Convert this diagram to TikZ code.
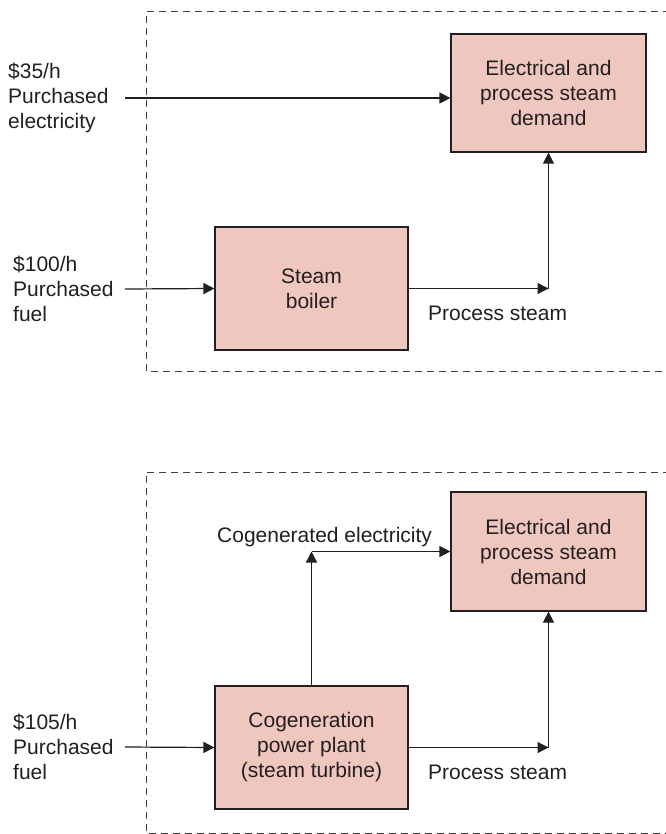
\documentclass[tikz,border=0pt]{standalone}
\usepackage{fontspec}
\setmainfont{Liberation Sans}
\usepackage{tikz}
\usetikzlibrary{positioning, arrows.meta, calc}
\definecolor{cBoxFill}{HTML}{EFC7BF}
\definecolor{cLine}   {HTML}{231F20}

\tikzset{
  flowbox/.style={draw=cLine, fill=cBoxFill, line width=1.2pt, inner sep=0pt,
                  minimum width=193pt, minimum height=123pt, align=center,
                  font=\fontsize{21}{25}\selectfont, text=cLine},
  flowtext/.style={inner sep=0pt, align=left,
                   font=\fontsize{21}{25}\selectfont, text=cLine},
  flowarrow/.style={draw=cLine, line width=1.2pt, -{Triangle[length=11pt, width=11pt]}},
  boundary/.style={draw=cLine!85, line width=1pt, dash pattern=on 7pt off 5pt},
}

\begin{document}
\begin{tikzpicture}[x=1pt, y=-1pt]
  \useasboundingbox (0,0) rectangle (665,834);

  % upper panel: separate production
  \draw[boundary] (670,12) -- (146,12) -- (146,371) -- (670,371);
  \node[flowbox, minimum width=195pt, minimum height=118pt] (demA) at (548.5,93)
       {Electrical and\\process steam\\demand};
  \node[flowbox] (boiler) at (311.5,288.5) {Steam\\boiler};
  \node[flowtext, anchor=west] (elecA) at (8,98) {\$35/h\\Purchased\\electricity};
  \node[flowtext, anchor=west] (fuelA) at (13,289) {\$100/h\\Purchased\\fuel};
  \coordinate (elecAsrc) at (125,98);
  \coordinate (fuelAsrc) at (125,289);
  \coordinate (steamA) at (demA.south |- boiler.east);
  \draw[flowarrow] (elecAsrc) -- (elecAsrc -| demA.west);
  \draw[flowarrow] (fuelAsrc) -- (boiler.west);
  \draw[flowarrow] (boiler.east) -- (steamA);
  \draw[flowarrow] (steamA) -- (demA.south);
  \node[flowtext, anchor=west] (steamAlbl) at (428,313) {Process steam};

  % lower panel: cogeneration
  \draw[boundary] (670,472) -- (146,472) -- (146,833) -- (670,833);
  \node[flowbox, minimum width=195pt, minimum height=119pt] (demB) at (548.5,551.5)
       {Electrical and\\process steam\\demand};
  \node[flowbox] (cogen) at (311.5,747.5) {Cogeneration\\power plant\\(steam turbine)};
  \node[flowtext, anchor=west] (fuelB) at (13,747) {\$105/h\\Purchased\\fuel};
  \coordinate (fuelBsrc) at (125,747);
  \coordinate (cogenUp) at (cogen.north |- demB.west);
  \coordinate (steamB) at (demB.south |- cogen.east);
  \draw[flowarrow] (fuelBsrc) -- (cogen.west);
  \draw[flowarrow] (cogen.north) -- (cogenUp);
  \draw[flowarrow] (cogenUp) -- (demB.west);
  \draw[flowarrow] (cogen.east) -- (steamB);
  \draw[flowarrow] (steamB) -- (demB.south);
  \node[flowtext, anchor=west] (cogenlbl) at (217,537) {Cogenerated electricity};
  \node[flowtext, anchor=west] (steamBlbl) at (428,772) {Process steam};
\end{tikzpicture}
\end{document}
